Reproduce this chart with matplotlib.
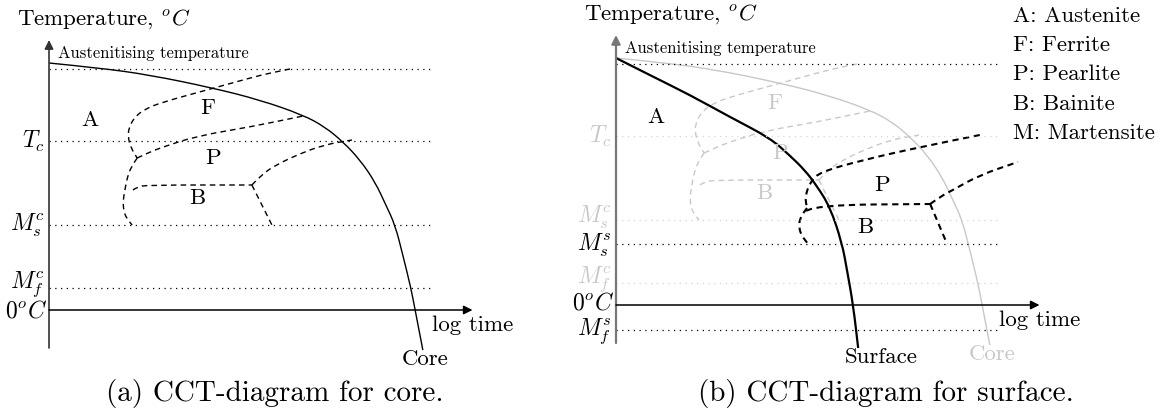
import matplotlib.pyplot as plt
from matplotlib.path import Path
from matplotlib.patches import PathPatch

plt.rcParams['font.family'] = 'cmr10'
plt.rcParams['mathtext.fontset'] = 'cm'
plt.rcParams['axes.unicode_minus'] = False

# temperature levels (schematic units, 0 = 0 oC)
t_aust = 964
t_c = 676
ms_core = 340
mf_core = 90
ms_surf = 244
mf_surf = -100
guide_end = 10.0
time_end = 11.0
temp_top = 1080
temp_bottom = -152

# cooling curves: log time vs temperature
core_t = [0, 1.32, 2.62, 4.26, 5.48, 6.60, 7.17, 7.64, 8.08, 8.47, 8.75, 8.99, 9.19, 9.40, 9.51, 9.71]
core_T = [988, 968, 940, 888, 840, 780, 732, 672, 600, 512, 420, 340, 220, 88, 0, -160]
surf_t = [0, 0.9, 1.92, 2.96, 4.0, 4.5, 4.9, 5.2, 5.56, 5.87, 6.0, 6.16, 6.29]
surf_T = [988, 918, 840, 752, 668, 600, 540, 480, 392, 248, 140, 0, -172]

# transformation lines, core
core_f_t = [6.26, 5.74, 5.22, 4.10, 2.96, 2.49, 2.23, 2.08, 2.05, 2.13, 2.29]
core_f_T = [964, 948, 928, 880, 832, 804, 772, 732, 692, 648, 608]
core_nose_t = [2.29, 2.13, 2.03, 1.97, 1.92, 1.95, 2.05, 2.16]
core_nose_T = [608, 572, 528, 480, 432, 388, 360, 340]
core_p_t = [2.29, 2.62, 2.96, 3.84, 5.22, 6.60]
core_p_T = [608, 632, 652, 696, 732, 776]
core_b_t = [2.18, 2.29, 2.55, 5.27]
core_b_T = [480, 492, 500, 500]
core_bend_t = [5.27, 5.79]
core_bend_T = [500, 340]
core_pb_t = [5.27, 5.56, 6.0, 6.44, 7.12, 7.87]
core_pb_T = [500, 548, 588, 620, 660, 680]

# transformation lines, surface
surf_p_t = [9.45, 7.90, 6.42, 5.30, 5.04, 4.91, 4.96]
surf_p_T = [680, 632, 580, 532, 492, 432, 388]
surf_nose_t = [4.96, 4.78, 4.75, 4.83, 4.99]
surf_nose_T = [388, 352, 308, 276, 244]
surf_b_t = [4.94, 5.17, 8.16]
surf_b_T = [376, 400, 404]
surf_bend_t = [8.16, 8.60]
surf_bend_T = [404, 244]
surf_pb_t = [8.16, 8.45, 8.75, 9.45, 10.44]
surf_pb_T = [404, 436, 460, 520, 572]

phase_names = ['A: Austenite', 'F: Ferrite', 'P: Pearlite', 'B: Bainite', 'M: Martensite']

W, H = 1161, 412
PX_T = 38.5   # px per log-time unit
PX_K = 0.25   # px per temperature unit
GREY = '#c8c8c8'
FS = 16.5
FS_M = 17

fig = plt.figure(figsize=(W / 100, H / 100), dpi=100)


def panel(left, width, ox, oy):
    ax = fig.add_axes([left / W, 0, width / W, 1])
    ax.set_xlim((left - ox) / PX_T, (left + width - ox) / PX_T)
    ax.set_ylim((oy - H) / PX_K, oy / PX_K)
    ax.axis('off')
    return ax


def curve(ax, t, T, **kw):
    # smooth quadratic path through the given points
    pts = list(zip(t, T))
    verts, codes = [pts[0]], [Path.MOVETO]
    for i in range(1, len(pts) - 1):
        mid = ((pts[i][0] + pts[i + 1][0]) / 2, (pts[i][1] + pts[i + 1][1]) / 2)
        verts += [pts[i], mid]
        codes += [Path.CURVE3, Path.CURVE3]
    verts.append(pts[-1])
    codes.append(Path.LINETO)
    ax.add_patch(PathPatch(Path(verts, codes), fill=False, **kw))


def axes_arrows(ax, ycol, ylw):
    ax.annotate('', xy=(0, temp_top), xytext=(0, temp_bottom),
                arrowprops=dict(arrowstyle='-|>', color=ycol, lw=ylw, mutation_scale=13,
                                shrinkA=0, shrinkB=0))
    ax.annotate('', xy=(time_end, 0), xytext=(0, 0),
                arrowprops=dict(arrowstyle='-|>', color='black', lw=1.1, mutation_scale=13,
                                shrinkA=0, shrinkB=0))
    ax.text(1.42, 1165, 'Temperature, $^oC$', fontsize=FS, ha='center', va='center')
    ax.text(0.23, 1028, 'Austenitising temperature', fontsize=12, ha='left', va='center')
    ax.text(9.95, -62, 'log time', fontsize=FS, ha='left', va='center')


def guide(ax, lvl, label, col, lbl_col=None, dy=0):
    ax.plot([0, guide_end], [lvl, lvl], color=col, lw=0.9, ls=(0, (1, 3.6)))
    if label:
        ax.text(-0.1, lvl + dy, label, fontsize=FS_M, ha='right', va='center',
                color=lbl_col or col)


def core_diagram(ax, col, lw):
    curve(ax, core_t, core_T, edgecolor=col, lw=lw)
    dash = (0, (4, 3))
    for t, T in [(core_f_t, core_f_T), (core_nose_t, core_nose_T), (core_p_t, core_p_T),
                 (core_b_t, core_b_T), (core_bend_t, core_bend_T), (core_pb_t, core_pb_T)]:
        curve(ax, t, T, edgecolor=col, lw=lw, ls=dash)
    ax.text(4.13, 808, 'F', fontsize=FS, ha='center', va='center', color=col)
    ax.text(4.26, 608, 'P', fontsize=FS, ha='center', va='center', color=col)
    ax.text(3.84, 448, 'B', fontsize=FS, ha='center', va='center', color=col)
    ax.text(9.78, -198, 'Core', fontsize=FS, ha='center', va='center', color=col)


# (a) core
axL = panel(0, 580, 49, 310)
guide(axL, t_aust, None, 'black')
guide(axL, t_c, '$T_c$', 'black')
guide(axL, ms_core, '$M_s^c$', 'black')
guide(axL, mf_core, '$M_f^c$', 'black', dy=12)
axL.text(-0.04, -4, '$0^oC$', fontsize=FS_M, ha='right', va='center')
core_diagram(axL, 'black', 1.0)
axL.text(1.06, 760, 'A', fontsize=FS, ha='center', va='center')
axes_arrows(axL, '#333333', 1.2)

# (b) surface, core drawn faded behind
axR = panel(580, 581, 616, 305)
guide(axR, t_aust, None, 'black')
guide(axR, t_c, '$T_c$', '#d4d4d4', GREY)
guide(axR, ms_core, '$M_s^c$', '#d4d4d4', GREY, dy=10)
guide(axR, ms_surf, '$M_s^s$', 'black', dy=-6)
guide(axR, mf_core, '$M_f^c$', '#d4d4d4', GREY, dy=12)
guide(axR, mf_surf, '$M_f^s$', 'black', dy=-6)
axR.text(-0.04, 8, '$0^oC$', fontsize=FS_M, ha='right', va='center')
core_diagram(axR, GREY, 1.0)

curve(axR, surf_t, surf_T, edgecolor='black', lw=1.6)
for t, T in [(surf_p_t, surf_p_T), (surf_nose_t, surf_nose_T), (surf_b_t, surf_b_T),
             (surf_bend_t, surf_bend_T), (surf_pb_t, surf_pb_T)]:
    curve(axR, t, T, edgecolor='black', lw=1.5, ls=(0, (3, 2.2)))
axR.text(1.04, 752, 'A', fontsize=FS, ha='center', va='center')
axR.text(6.9, 478, 'P', fontsize=FS, ha='center', va='center')
axR.text(6.47, 312, 'B', fontsize=FS, ha='center', va='center')
axR.text(6.9, -208, 'Surface', fontsize=FS, ha='center', va='center')
axes_arrows(axR, '#777777', 1.6)

for i, name in enumerate(phase_names):
    axR.text(10.31, 1156 - 117 * i, name, fontsize=FS, ha='left', va='center')

fig.text(275 / W, 1 - 394 / H, '(a) CCT-diagram for core.', fontsize=21,
         ha='center', va='center')
fig.text(886 / W, 1 - 394 / H, '(b) CCT-diagram for surface.', fontsize=21,
         ha='center', va='center')

fig.savefig('out.png', dpi=100)
